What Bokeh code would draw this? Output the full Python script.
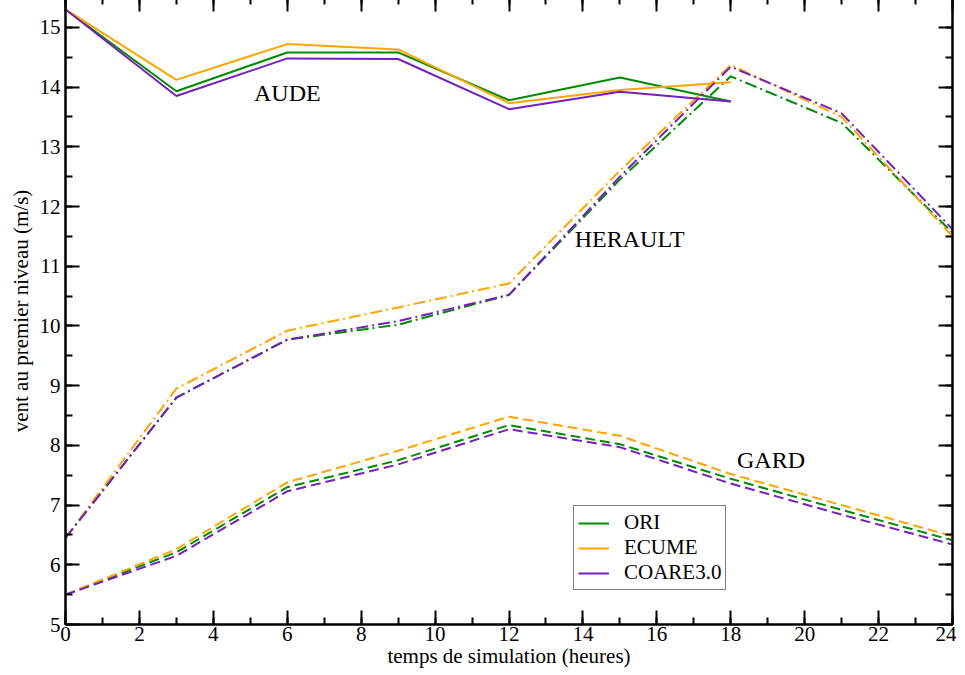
from bokeh.plotting import figure
from bokeh.models import Range1d, LinearAxis, Legend, LegendItem, Label, FixedTicker
from bokeh.embed import file_html
from bokeh.resources import INLINE

# ---- data ----
hours_aude = [0, 3, 6, 9, 12, 15, 18]
aude_ori = [15.3, 13.93, 14.58, 14.58, 13.78, 14.16, 13.76]
aude_ecume = [15.3, 14.12, 14.72, 14.63, 13.73, 13.95, 14.08]
aude_coare = [15.3, 13.85, 14.48, 14.47, 13.63, 13.92, 13.76]

hours = [0, 3, 6, 9, 12, 15, 18, 21, 24]
herault_ori = [6.45, 8.8, 9.77, 10.02, 10.52, 12.45, 14.18, 13.4, 11.56]
herault_ecume = [6.45, 8.95, 9.92, 10.31, 10.71, 12.6, 14.37, 13.5, 11.5]
herault_coare = [6.45, 8.8, 9.77, 10.08, 10.52, 12.5, 14.34, 13.56, 11.62]

gard_ori = [5.5, 6.21, 7.3, 7.75, 8.34, 8.02, 7.44, 6.92, 6.41]
gard_ecume = [5.5, 6.26, 7.38, 7.91, 8.48, 8.16, 7.52, 7.0, 6.48]
gard_coare = [5.5, 6.15, 7.23, 7.68, 8.27, 7.97, 7.36, 6.84, 6.34]

series_names = ["ORI", "ECUME", "COARE3.0"]
colors = ["#008B00", "#FFA500", "#7221BC"]

FONT = "Liberation Serif"

p = figure(width=951, height=673, output_backend="svg", toolbar_location=None,
           x_range=Range1d(0, 24), y_range=Range1d(5, 15.5),
           min_border_left=10, min_border_right=4, min_border_top=0, min_border_bottom=0)
p.margin = (-3, 0, 0, 5)
p.grid.visible = False
p.outline_line_color = "black"
p.outline_line_width = 2
p.background_fill_color = "white"

xt = FixedTicker(ticks=list(range(0, 25, 2)), minor_ticks=list(range(0, 25, 1)))
yt = FixedTicker(ticks=list(range(5, 16, 1)), minor_ticks=[5 + 0.5 * i for i in range(22)])

def style_axis(ax, labels=True):
    ax.axis_line_color = "black"
    ax.axis_line_width = 2
    ax.major_tick_in = 14
    ax.major_tick_out = 0
    ax.minor_tick_in = 7
    ax.minor_tick_out = 0
    ax.major_tick_line_width = 2
    ax.minor_tick_line_width = 2
    ax.major_tick_line_color = "black"
    ax.minor_tick_line_color = "black"
    if labels:
        ax.major_label_text_font = FONT
        ax.major_label_text_font_size = "21px"
        ax.major_label_text_color = "black"
        ax.major_label_text_line_height = 0.9
        ax.axis_label_text_font = FONT
        ax.axis_label_text_font_size = "21px"
        ax.axis_label_text_font_style = "normal"
        ax.axis_label_text_color = "black"
        ax.axis_label_text_line_height = 0.9
    else:
        ax.major_label_text_font_size = "0px"

p.xaxis.ticker = xt
p.yaxis.ticker = yt
p.xaxis.axis_label = "temps de simulation (heures)"
p.yaxis.axis_label = "vent au premier niveau (m/s)"
style_axis(p.xaxis[0])
style_axis(p.yaxis[0])
p.xaxis.major_label_standoff = 2
p.xaxis.axis_label_standoff = 0
p.yaxis.major_label_standoff = 5
p.yaxis.axis_label_standoff = 4

top = LinearAxis(ticker=xt)
style_axis(top, labels=False)
top.major_label_standoff = 0
p.add_layout(top, "above")
right = LinearAxis(ticker=yt)
style_axis(right, labels=False)
right.major_label_standoff = 0
p.add_layout(right, "right")

aude = [aude_ori, aude_ecume, aude_coare]
herault = [herault_ori, herault_ecume, herault_coare]
gard = [gard_ori, gard_ecume, gard_coare]

legend_items = []
for i in range(3):
    r = p.line(hours_aude, aude[i], line_color=colors[i], line_width=2)
    legend_items.append(LegendItem(label=series_names[i], renderers=[r]))
    p.line(hours, herault[i], line_color=colors[i], line_width=2, line_dash="12 4 2 4")
    p.line(hours, gard[i], line_color=colors[i], line_width=2, line_dash="10 5")

legend = Legend(items=legend_items, location=(508, 34))
legend.border_line_color = "black"
legend.border_line_width = 1.5
legend.label_text_font = FONT
legend.label_text_font_size = "21px"
legend.label_text_line_height = 0.75
legend.label_text_color = "black"
legend.glyph_width = 31
legend.glyph_height = 14
legend.label_height = 14
legend.spacing = 0
legend.padding = 4
legend.margin = 0
legend.label_standoff = 15
legend.background_fill_alpha = 1
p.add_layout(legend, "center")

for txt, x, y in [("AUDE", 5.1, 13.9), ("HERAULT", 13.78, 11.45), ("GARD", 18.17, 7.76)]:
    p.add_layout(Label(x=x, y=y, text=txt, text_font=FONT, text_font_size="24px",
                       text_baseline="middle", text_align="left", text_color="black"))

open("out.html", "w").write(file_html(p, INLINE))
